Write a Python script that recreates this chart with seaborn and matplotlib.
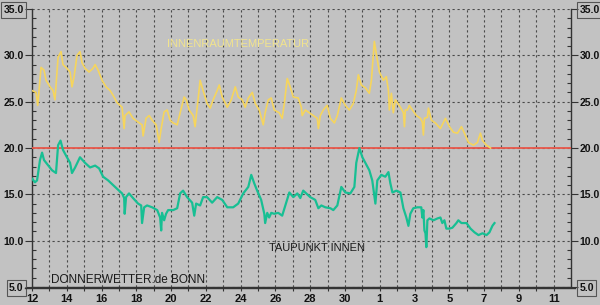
import numpy as np
import pandas as pd
import matplotlib
matplotlib.use("Agg")
import matplotlib.pyplot as plt
from matplotlib.lines import Line2D
import seaborn as sns

# ---- data (days since the 12th) ----
temp_day = [0.00, 0.23, 0.33, 0.52, 0.69, 0.81, 1.04, 1.21, 1.32, 1.50, 1.67, 1.78, 2.01, 2.19, 2.30,
            2.42, 2.59, 2.76, 2.88, 3.05, 3.28, 3.51, 3.63, 3.80, 4.03, 4.26, 4.49, 4.66, 4.89, 5.18,
            5.30, 5.35, 5.58, 5.81, 6.10, 6.33, 6.39, 6.56, 6.74, 6.91, 7.14, 7.31, 7.43, 7.60, 7.77,
            7.94, 8.12, 8.35, 8.52, 8.75, 8.87, 9.04, 9.27, 9.38, 9.50, 9.67, 9.84, 10.07, 10.25, 10.42,
            10.65, 10.77, 10.94, 11.23, 11.46, 11.69, 11.86, 12.09, 12.26, 12.44, 12.67, 12.84, 13.07,
            13.30, 13.41, 13.59, 13.76, 13.93, 14.22, 14.39, 14.51, 14.68, 14.85, 15.03, 15.31, 15.49,
            15.54, 15.72, 15.95, 16.18, 16.41, 16.47, 16.58, 16.75, 16.98, 17.16, 17.39, 17.56, 17.79,
            18.02, 18.25, 18.48, 18.65, 18.77, 18.94, 19.17, 19.40, 19.52, 19.69, 19.80, 19.98, 20.21,
            20.38, 20.50, 20.55, 20.67, 20.78, 20.90, 21.19, 21.36, 21.42, 21.47, 21.59, 21.70, 21.88,
            22.11, 22.34, 22.45, 22.51, 22.57, 22.74, 22.80, 22.97, 23.20, 23.49, 23.78, 24.01, 24.24,
            24.47, 24.70, 24.87, 25.10, 25.39, 25.62, 25.79, 25.91, 26.14, 26.37]
temp_val = [26.2, 26.0, 24.6, 28.7, 28.4, 27.3, 26.6, 26.2, 25.2, 29.8, 30.4, 29.0, 28.6, 28.2, 26.6,
            27.7, 30.0, 30.4, 29.2, 28.6, 28.2, 28.6, 29.0, 28.4, 27.3, 26.6, 26.2, 25.7, 24.9, 24.4,
            22.1, 23.5, 23.9, 23.2, 22.8, 22.5, 21.3, 23.2, 23.5, 23.0, 22.5, 20.6, 22.1, 23.9, 24.1,
            23.0, 22.7, 22.5, 23.8, 25.5, 25.2, 24.1, 23.5, 22.3, 24.4, 27.3, 26.2, 24.8, 24.3, 25.2,
            26.2, 26.8, 25.5, 24.4, 25.2, 26.6, 25.5, 25.2, 24.4, 25.4, 26.0, 24.8, 24.1,
            22.5, 23.8, 25.2, 25.4, 24.1, 23.8, 23.2, 24.8, 27.5, 26.6, 25.5, 25.4, 24.4,
            23.5, 24.1, 23.8, 23.5, 23.2, 22.1, 23.5, 24.1, 24.6, 23.2, 22.7, 23.5, 25.4,
            24.6, 24.1, 24.8, 26.2, 27.9, 26.8, 26.5, 25.9, 27.3, 31.5, 30.2, 28.2, 27.3,
            27.7, 26.2, 24.1, 25.9, 23.8, 25.2, 24.4, 23.8, 22.3, 24.1, 24.1, 24.6, 24.1,
            23.5, 23.2, 22.8, 21.4, 23.2, 23.3, 24.3, 23.0, 22.7, 22.1, 23.2, 22.3, 21.7,
            21.6, 22.3, 21.6, 20.6, 20.3, 20.6, 21.6, 20.8, 20.3, 20.0]

dew_day = [0.00, 0.17, 0.29, 0.46, 0.58, 0.69, 0.86, 1.15, 1.38, 1.50, 1.64, 1.78, 2.01, 2.19, 2.30,
           2.48, 2.76, 3.05, 3.34, 3.63, 3.86, 4.09, 4.38, 4.66, 4.89, 5.18, 5.30, 5.33, 5.41, 5.58,
           5.81, 6.10, 6.28, 6.33, 6.45, 6.62, 6.91, 7.20, 7.37, 7.43, 7.48, 7.60, 7.71, 7.83, 8.12,
           8.35, 8.52, 8.69, 8.92, 9.21, 9.33, 9.44, 9.67, 9.84, 10.07, 10.36, 10.65, 10.94, 11.23,
           11.57, 11.86, 12.15, 12.44, 12.61, 12.78, 12.95, 13.18, 13.36, 13.41, 13.53, 13.64, 13.76,
           13.93, 14.16, 14.39, 14.62, 14.80, 15.03, 15.26, 15.43, 15.60, 15.77, 16.00, 16.29, 16.47,
           16.64, 16.87, 17.16, 17.33, 17.56, 17.79, 18.02, 18.31, 18.54, 18.65, 18.83, 19.00, 19.17,
           19.40, 19.57, 19.75, 19.86, 20.09, 20.32, 20.50, 20.61, 20.73, 20.96, 21.19, 21.36, 21.53,
           21.65, 21.76, 21.93, 22.16, 22.39, 22.45, 22.51, 22.57, 22.63, 22.68, 22.74, 22.86, 23.09,
           23.32, 23.49, 23.60, 23.72, 23.83, 24.01, 24.18, 24.41, 24.52, 24.70, 24.99, 25.22, 25.45,
           25.68, 25.91, 26.14, 26.31, 26.48, 26.60]
dew_val = [16.7, 16.3, 16.5, 18.7, 19.5, 18.7, 18.3, 17.6, 17.3, 20.3, 20.8, 19.8, 19.0, 18.4, 17.3,
           17.9, 19.0, 18.4, 17.9, 18.1, 17.8, 16.9, 16.5, 16.0, 15.6, 15.1, 14.6, 12.9, 14.7, 15.1,
           14.6, 14.0, 13.8, 11.9, 13.6, 13.8, 13.6, 13.3, 12.5, 11.1, 13.0, 12.2, 12.9, 13.3, 13.3,
           13.5, 15.1, 15.4, 14.7, 14.1, 12.7, 14.0, 13.8, 14.7, 14.7, 14.1, 14.7, 14.4, 13.6,
           13.6, 14.0, 15.1, 15.8, 17.1, 16.2, 15.4, 14.4, 12.9, 11.9, 13.0, 12.5, 13.0,
           12.9, 13.0, 12.7, 14.1, 15.2, 14.7, 15.1, 14.6, 15.4, 15.1, 14.7, 14.4, 13.5,
           13.8, 13.6, 13.5, 13.3, 13.8, 15.8, 15.2, 15.1, 15.8, 18.4, 20.0, 19.0, 18.4,
           17.6, 16.5, 14.0, 16.5, 17.1, 16.9, 17.4, 16.2, 15.2, 15.4, 15.2, 13.5, 12.5,
           11.6, 12.9, 13.5, 13.6, 13.6, 12.5, 13.3, 11.1, 10.8, 9.3, 12.2, 12.4, 12.2,
           12.4, 12.5, 11.9, 12.2, 11.3, 11.3, 11.4, 11.9, 12.2, 11.9, 11.9, 11.3, 10.9,
           10.6, 10.8, 10.6, 10.9, 11.6, 11.9]

ref_level = 20.0
x_ticklabels = ["12", "", "14", "", "16", "", "18", "", "20", "", "22", "", "24", "", "26", "",
                "28", "", "30", "", "1", "", "3", "", "5", "", "7", "", "9", "", "11"]
y_major = [5, 10, 15, 20, 25, 30, 35]

# ---- drawing ----
BG = "#C2C2C2"
W, H = 600, 305
fig = plt.figure(figsize=(6.0, 3.05), dpi=100, facecolor=BG)
ax = fig.add_axes([32 / W, 1 - 287 / H, (571 - 32) / W, (287 - 9) / H])
ax.set_facecolor(BG)

df_t = pd.DataFrame({"day": temp_day, "val": temp_val})
df_d = pd.DataFrame({"day": dew_day, "val": dew_val})

ax.axhline(ref_level, color="#E8574A", lw=1.3, zorder=3)
sns.lineplot(data=df_t, x="day", y="val", ax=ax, color="#F6D55C", lw=1.2,
             estimator=None, sort=False, zorder=4)
sns.lineplot(data=df_d, x="day", y="val", ax=ax, color="#17BF93", lw=1.6,
             estimator=None, sort=False, zorder=4)

ax.set_xlim(0, 31)
ax.set_ylim(5, 35)
ax.set_xlabel("")
ax.set_ylabel("")

ax.set_xticks(range(len(x_ticklabels)))
ax.set_xticklabels(x_ticklabels)
ax.set_yticks(y_major)
ax.set_yticks(range(5, 36), minor=True)
ax.yaxis.set_major_formatter(matplotlib.ticker.FormatStrFormatter("%.1f"))

ax.grid(True, which="major", color="#4A4A4A", linestyle=(0, (2, 2.5)), lw=0.8)
ax.set_axisbelow(True)

for s in ["left", "right", "bottom"]:
    ax.spines[s].set_color("#333333")
    ax.spines[s].set_linewidth(1.0)
ax.spines["top"].set_visible(False)

ax.tick_params(axis="x", which="major", direction="out", length=3, width=0.8,
               color="#333333", pad=2, labelsize=8, labelcolor="#111111")
ax.tick_params(axis="y", which="major", direction="out", length=5, width=0.8,
               color="#333333", left=True, right=True, labelleft=True, labelright=True,
               labelsize=7.5, labelcolor="#111111", pad=1)
ax.tick_params(axis="y", which="minor", direction="in", length=3, width=0.8,
               color="#333333", left=True, right=True)

for lab in ax.get_xticklabels():
    lab.set_fontfamily("Liberation Sans")
    lab.set_fontweight("bold")
for t in ax.yaxis.get_major_ticks():
    for lab in (t.label1, t.label2):
        lab.set_fontfamily("Liberation Sans")
        lab.set_fontweight("bold")
ticks = ax.yaxis.get_major_ticks()
for t in (ticks[0], ticks[-1]):
    for lab in (t.label1, t.label2):
        lab.set_bbox(dict(boxstyle="square,pad=0.25", fc="none", ec="#555555", lw=0.8))

# extended bottom axis line
fig.add_artist(Line2D([25 / W, 575 / W], [1 - 288 / H, 1 - 288 / H],
                      color="#333333", lw=1.0, transform=fig.transFigure))

fig.text(238 / W, 1 - 44 / H, "INNENRAUMTEMPERATUR", color="#F2E48C",
         fontsize=8, family="Liberation Sans", ha="center", va="center")
fig.text(317 / W, 1 - 248 / H, "TAUPUNKT INNEN", color="#1A1A1A",
         fontsize=8, family="Liberation Sans", ha="center", va="center")
fig.text(128 / W, 1 - 280 / H, "DONNERWETTER.de BONN", color="#1A1A1A",
         fontsize=8.5, family="Liberation Sans", ha="center", va="center")

fig.savefig("out.png", dpi=100, facecolor=BG)
